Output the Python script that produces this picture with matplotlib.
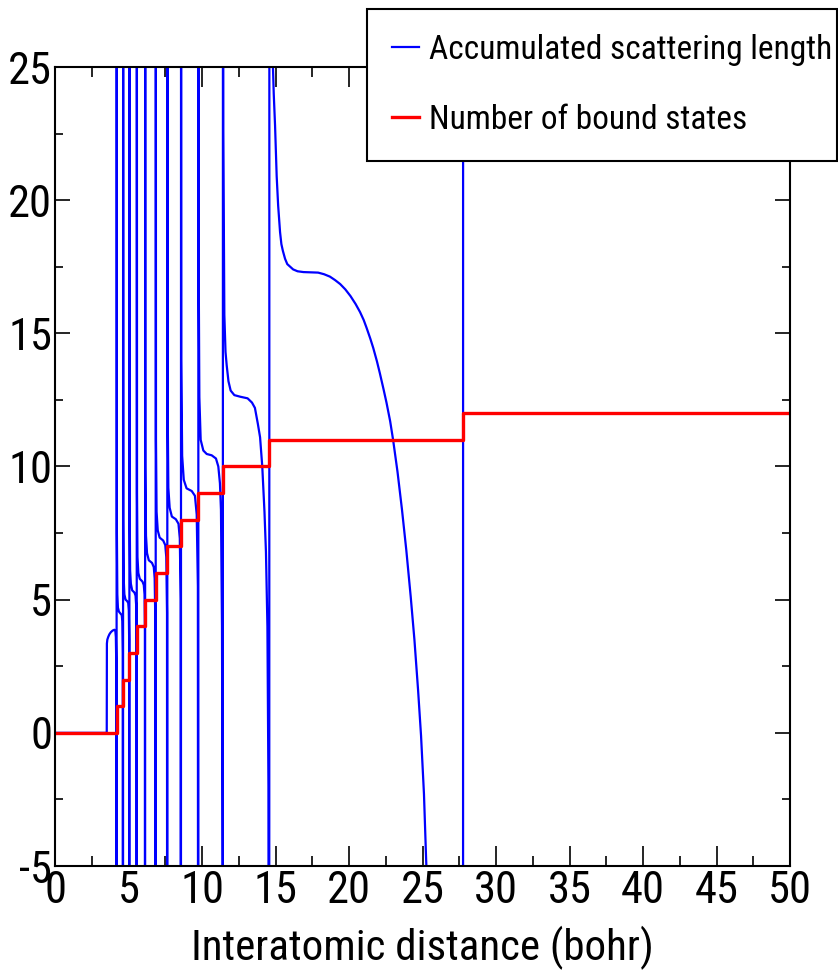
import matplotlib
matplotlib.use('Agg')
import matplotlib.pyplot as plt
from matplotlib.ticker import MultipleLocator

# narrow lettering as in the reference
plt.rcParams['font.family'] = ['Roboto Condensed', 'DejaVu Sans']
plt.rcParams['axes.unicode_minus'] = False

# Accumulated scattering length, read branch by branch (r in bohr)
# values of +-40 / +-100 are off the chart and only mark the poles
scat_r = [
    0, 3.52, 3.53, 3.56, 3.62, 3.70, 3.80, 3.92, 4.04, 4.10, 4.14, 4.17, 4.185,
    4.195, 4.21, 4.24, 4.28, 4.35, 4.45, 4.54, 4.58, 4.61, 4.625,
    4.635, 4.65, 4.68, 4.72, 4.80, 4.90, 4.98, 5.02, 5.045, 5.055,
    5.065, 5.08, 5.11, 5.16, 5.25, 5.40, 5.48, 5.52, 5.545, 5.555,
    5.565, 5.58, 5.61, 5.67, 5.77, 5.95, 6.04, 6.09, 6.115, 6.125,
    6.135, 6.15, 6.19, 6.26, 6.38, 6.60, 6.72, 6.78, 6.83, 6.845,
    6.855, 6.87, 6.91, 6.99, 7.12, 7.36, 7.50, 7.57, 7.62, 7.635,
    7.645, 7.66, 7.71, 7.80, 7.95, 8.22, 8.40, 8.49, 8.55, 8.565,
    8.575, 8.59, 8.65, 8.76, 8.95, 9.30, 9.52, 9.64, 9.72, 9.745,
    9.755, 9.77, 9.82, 9.91, 10.09, 10.32, 10.66, 10.95, 11.11, 11.22, 11.29, 11.36, 11.40, 11.415,
    11.425, 11.45, 11.52, 11.60, 11.68, 11.80, 11.95, 12.20, 12.60, 13.10, 13.40, 13.60, 13.80,
    13.95, 14.10, 14.25, 14.35, 14.45, 14.52, 14.57,
    14.585, 14.70, 14.80, 14.88, 14.97, 15.08, 15.18, 15.31, 15.40, 15.50, 15.65, 15.80, 16.00,
    16.20, 16.50, 16.90, 17.40, 17.90, 18.30, 18.70, 19.05, 19.40, 19.75, 20.10, 20.45, 20.75,
    21.00, 21.20, 21.45, 21.65, 21.90, 22.10, 22.35, 22.55, 22.80, 23.00, 23.30, 23.60, 23.90,
    24.20, 24.45, 24.70, 24.90, 25.10, 25.25, 25.40, 25.70, 26.20, 27.00, 27.755,
    27.765, 50,
]
scat_a = [
    0, 0, 3.35, 3.50, 3.60, 3.70, 3.78, 3.84, 3.87, 3.85, 3.6, 2.5, -40,
    40, 7.5, 5.2, 4.7, 4.55, 4.48, 4.42, 4.2, 3.0, -40,
    40, 8.0, 5.7, 5.2, 5.0, 4.95, 4.88, 4.6, 3.5, -40,
    40, 8.5, 6.1, 5.6, 5.35, 5.27, 5.15, 4.8, 3.5, -40,
    40, 9.0, 6.6, 6.0, 5.78, 5.68, 5.55, 5.2, 3.8, -40,
    40, 10.0, 7.4, 6.75, 6.48, 6.38, 6.22, 5.8, 4.0, -40,
    40, 11.0, 8.3, 7.6, 7.33, 7.22, 7.05, 6.6, 4.5, -40,
    40, 12.5, 9.2, 8.45, 8.12, 8.02, 7.85, 7.3, 5.0, -40,
    40, 14.0, 10.4, 9.5, 9.18, 9.08, 8.9, 8.2, 5.5, -40,
    40, 18.0, 12.6, 11.0, 10.6, 10.47, 10.42, 10.3, 10.0, 9.37, 8.37, 4.0, -5.0, -40,
    40, 22.6, 15.7, 14.3, 13.8, 13.2, 12.85, 12.68, 12.62, 12.56, 12.4, 12.2, 11.6,
    11.1, 10.0, 8.3, 6.8, 4.0, -2.0, -40,
    40, 30.0, 25.5, 24.0, 22.8, 20.9, 19.8, 18.8, 18.35, 18.1, 17.8, 17.6, 17.5,
    17.4, 17.33, 17.3, 17.29, 17.28, 17.22, 17.13, 17.0, 16.85, 16.65, 16.4, 16.1, 15.8,
    15.5, 15.2, 14.8, 14.45, 13.95, 13.5, 12.9, 12.4, 11.7, 11.0, 9.8, 8.4, 6.85,
    5.1, 3.5, 1.6, -0.1, -2.3, -4.8, -7.0, -12.0, -20.0, -40, -100,
    100, 40,
]

# Number of bound states: step edges (bohr) and counts
bound_r = [0, 4.19, 4.63, 5.06, 5.56, 6.13, 6.85, 7.64, 8.57, 9.75, 11.42, 14.58, 27.76, 50]
bound_n = [0, 1, 2, 3, 4, 5, 6, 7, 8, 9, 10, 11, 12, 12]

fig = plt.figure(figsize=(8.38, 9.8), dpi=100)
ax = fig.add_axes([55 / 838, 114 / 980, 735 / 838, 799 / 980])

ax.plot(scat_r, scat_a, color='#0000ff', lw=1.6, label='Accumulated scattering length')
ax.step(bound_r, bound_n, where='post', color='#ff0000', lw=2.4, label='Number of bound states')

ax.set_xlim(0, 50)
ax.set_ylim(-5, 25)
ax.xaxis.set_major_locator(MultipleLocator(5))
ax.xaxis.set_minor_locator(MultipleLocator(2.5))
ax.yaxis.set_major_locator(MultipleLocator(5))
ax.yaxis.set_minor_locator(MultipleLocator(2.5))

for s in ax.spines.values():
    s.set_linewidth(1.5)
    s.set_color('black')

ax.tick_params(which='both', direction='in', top=True, right=True, width=1.2, colors='black')
ax.tick_params(axis='x', which='major', length=14.5, pad=3, labelsize=32)
ax.tick_params(axis='x', which='minor', length=7.5)
ax.tick_params(axis='y', which='major', length=11, pad=2, labelsize=32)
ax.tick_params(axis='y', which='minor', length=6)

ax.set_xlabel('Interatomic distance (bohr)', fontsize=31, labelpad=10)

leg = ax.legend(loc='upper left', bbox_to_anchor=(367 / 838, 821 / 980, 470 / 838, 150 / 980),
                bbox_transform=fig.transFigure, mode='expand', borderaxespad=0,
                fontsize=24, handlelength=0.8, handleheight=0.7, handletextpad=0.3,
                borderpad=0.75, labelspacing=1.14, fancybox=False, framealpha=1,
                edgecolor='black')
leg.get_frame().set_linewidth(1.5)

plt.savefig('out.png', dpi=100)
